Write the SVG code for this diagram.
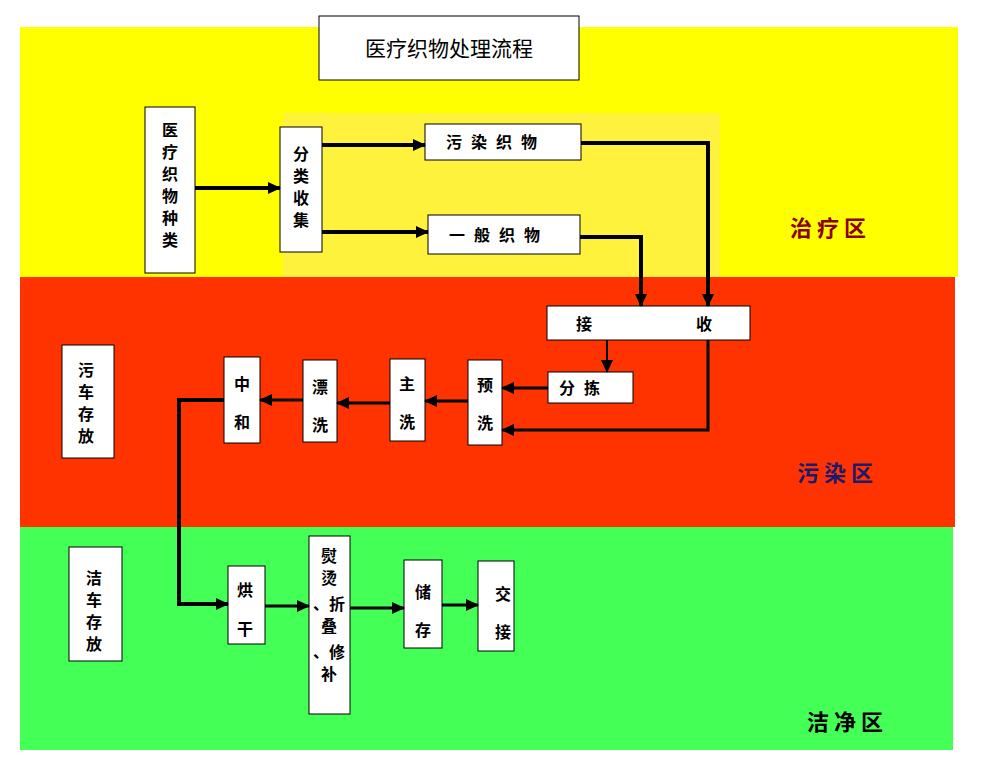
<svg xmlns="http://www.w3.org/2000/svg" width="983" height="757" viewBox="0 0 983 757">
<style>
.b{fill:#fff;stroke:#000;stroke-width:1}
.t{font-family:"Noto Sans CJK SC",sans-serif;font-size:16px;font-weight:bold;fill:#000;text-anchor:middle}
.c{fill:none;stroke:#000;stroke-width:4}
.z{font-family:"Noto Sans CJK SC",sans-serif;font-size:22px;font-weight:bold;text-anchor:middle}
</style>
<defs><marker id="a" markerUnits="userSpaceOnUse" markerWidth="14" markerHeight="14" refX="12" refY="7" orient="auto"><path d="M0,1 L13,7 L0,13 Z" fill="#000"/></marker></defs>
<rect x="0" y="0" width="983" height="757" fill="#fff"/>
<rect x="20" y="27" width="938" height="250" fill="#ffff00"/>
<rect x="283" y="113" width="437" height="164" fill="#fff23c"/>
<rect x="20" y="277" width="935" height="250" fill="#ff3300"/>
<rect x="20" y="527" width="933" height="223" fill="#44ff55"/>
<g id="title"><rect class="b" x="319" y="16" width="260" height="64"/><text class="t" x="449" y="56" style="font-size:21px;font-weight:normal">医疗织物处理流程</text></g>
<g id="zones">
<text class="z" x="828" y="236" fill="#8b0000">治 疗 区</text>
<text class="z" x="835" y="481" fill="#1a1a6e">污 染 区</text>
<text class="z" x="845" y="730" fill="#000">洁 净 区</text>
</g>
<g id="n1"><rect class="b" x="145" y="107" width="50" height="166"/><text class="t" x="170" y="136">医</text><text class="t" x="170" y="158">疗</text><text class="t" x="170" y="180">织</text><text class="t" x="170" y="202">物</text><text class="t" x="170" y="224">种</text><text class="t" x="170" y="246">类</text></g>
<g id="n2"><rect class="b" x="280" y="127" width="42" height="125"/><text class="t" x="301" y="160">分</text><text class="t" x="301" y="182">类</text><text class="t" x="301" y="204">收</text><text class="t" x="301" y="226">集</text></g>
<g id="n3"><rect class="b" x="425" y="124" width="156" height="36"/><text class="t" x="496" y="148" style="letter-spacing:9px">污染织物</text></g>
<g id="n4"><rect class="b" x="428" y="215" width="152" height="39"/><text class="t" x="499" y="241" style="letter-spacing:9px">一般织物</text></g>
<g id="n5"><rect class="b" x="547" y="306" width="203" height="34"/><text class="t" x="584" y="330">接</text><text class="t" x="704" y="330">收</text></g>
<g id="n6"><rect class="b" x="548" y="372" width="85" height="31"/><text class="t" x="584" y="394" style="letter-spacing:9px">分拣</text></g>
<g id="n7"><rect class="b" x="468" y="360" width="34" height="85"/><text class="t" x="485" y="391">预</text><text class="t" x="485" y="429">洗</text></g>
<g id="n8"><rect class="b" x="390" y="359" width="35" height="82"/><text class="t" x="407" y="390">主</text><text class="t" x="407" y="428">洗</text></g>
<g id="n9"><rect class="b" x="303" y="360" width="34" height="82"/><text class="t" x="320" y="393">漂</text><text class="t" x="320" y="431">洗</text></g>
<g id="n10"><rect class="b" x="224" y="357" width="36" height="86"/><text class="t" x="242" y="390">中</text><text class="t" x="242" y="428">和</text></g>
<g id="n11"><rect class="b" x="62" y="345" width="52" height="113"/><text class="t" x="86" y="376">污</text><text class="t" x="86" y="398">车</text><text class="t" x="86" y="420">存</text><text class="t" x="86" y="442">放</text></g>
<g id="n12"><rect class="b" x="69" y="547" width="53" height="114"/><text class="t" x="94" y="584">洁</text><text class="t" x="94" y="606">车</text><text class="t" x="94" y="628">存</text><text class="t" x="94" y="650">放</text></g>
<g id="n13"><rect class="b" x="228" y="566" width="37" height="78"/><text class="t" x="245" y="596">烘</text><text class="t" x="245" y="635">干</text></g>
<g id="n14"><rect class="b" x="309" y="536" width="41" height="178"/><text class="t" x="329" y="562">熨</text><text class="t" x="329" y="584">烫</text><text class="t" x="329" y="610">、折</text><text class="t" x="329" y="632">叠</text><text class="t" x="329" y="658">、修</text><text class="t" x="329" y="680">补</text></g>
<g id="n15"><rect class="b" x="404" y="560" width="38" height="88"/><text class="t" x="423" y="598">储</text><text class="t" x="423" y="636">存</text></g>
<g id="n16"><rect class="b" x="478" y="561" width="36" height="90"/><text class="t" x="503" y="600">交</text><text class="t" x="503" y="638">接</text></g>
<g id="connectors">
<path class="c" d="M195,188 H280" marker-end="url(#a)"/>
<path class="c" d="M322,145 H425" marker-end="url(#a)"/>
<path class="c" d="M322,232 H428" marker-end="url(#a)"/>
<path class="c" d="M581,143 H708 V306" marker-end="url(#a)"/>
<path class="c" d="M580,237 H641 V306" marker-end="url(#a)"/>
<path class="c" style="stroke-width:2" d="M607,340 V372" marker-end="url(#a)"/>
<path class="c" style="stroke-width:3" d="M708,340 V430 H502" marker-end="url(#a)"/>
<path class="c" style="stroke-width:3" d="M548,388 H502" marker-end="url(#a)"/>
<path class="c" style="stroke-width:3" d="M468,401 H425" marker-end="url(#a)"/>
<path class="c" style="stroke-width:3" d="M390,403 H337" marker-end="url(#a)"/>
<path class="c" style="stroke-width:3" d="M303,400 H260" marker-end="url(#a)"/>
<path class="c" d="M224,400 H179 V604 H228" marker-end="url(#a)"/>
<path class="c" style="stroke-width:3" d="M265,606 H309" marker-end="url(#a)"/>
<path class="c" style="stroke-width:3" d="M350,608 H404" marker-end="url(#a)"/>
<path class="c" style="stroke-width:3" d="M442,605 H478" marker-end="url(#a)"/>
</g>
</svg>
